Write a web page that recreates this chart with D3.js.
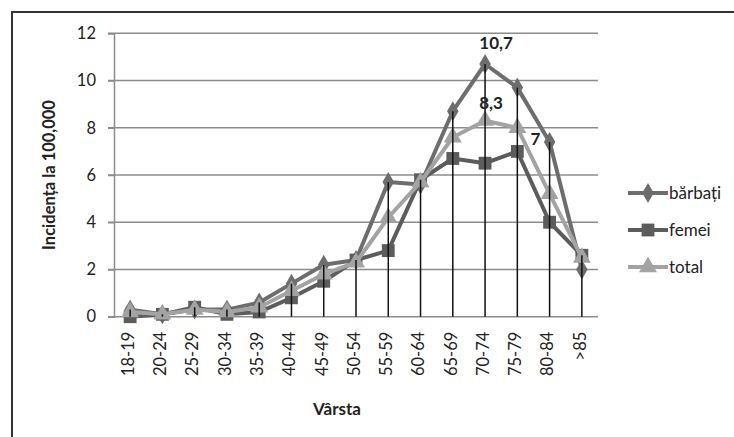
<!DOCTYPE html>
<html>
<head>
<meta charset="utf-8">
<script src="https://cdn.jsdelivr.net/npm/d3@7"></script>
<style>
  body { margin: 0; background: #fff; }
  svg { display: block; font-family: Lato, "Open Sans", sans-serif; }
</style>
</head>
<body>
<svg id="chart" width="734" height="437"></svg>
<script>
const categories = ["18-19","20-24","25-29","30-34","35-39","40-44","45-49","50-54","55-59","60-64","65-69","70-74","75-79","80-84",">85"];
const barbati = [0.3,0.1,0.3,0.3,0.6,1.4,2.2,2.4,5.7,5.6,8.7,10.7,9.7,7.4,2.0];
const femei   = [0.0,0.1,0.4,0.1,0.2,0.8,1.5,2.4,2.8,5.8,6.7,6.5,7.0,4.0,2.6];
const total   = [0.2,0.1,0.3,0.2,0.4,1.1,1.8,2.3,4.2,5.7,7.6,8.3,8.0,5.2,2.5];
const yTicks = [0,2,4,6,8,10,12];
const seriesNames = ["bărbați","femei","total"];
const annotations = [
  {series: 0, index: 11, text: "10,7", dx: 11, dy: -15},
  {series: 2, index: 11, text: "8,3", dx: 6, dy: -12},
  {series: 1, index: 12, text: "7", dx: 18, dy: -6}
];

const svg = d3.select("#chart");
const margin = {left: 114, right: 136, top: 33.3, bottom: 120.3};
const W = 734, H = 437;
const x = d3.scaleBand().domain(categories).range([margin.left, W - margin.right]);
const y = d3.scaleLinear().domain([0, 12]).range([H - margin.bottom, margin.top]);

const colors = ["#6d6d6d", "#5c5c5c", "#a3a3a3"];
const data = [barbati, femei, total];
const symbols = [d3.symbolDiamond, d3.symbolSquare, d3.symbolTriangle];
const symSizes = [115, 165, 140];
const tickFont = 16.5;

// outer frame
svg.append("path").attr("d", `M12,437 V12 H734`).attr("fill", "none").attr("stroke", "#333").attr("stroke-width", 2);

// gridlines
svg.append("g").selectAll("line").data(yTicks).join("line")
  .attr("x1", margin.left - 6).attr("x2", W - margin.right)
  .attr("y1", d => y(d)).attr("y2", d => y(d))
  .attr("stroke", "#8c8c8c").attr("stroke-width", 1.5);

// y axis
const yAxis = d3.axisLeft(y).tickValues(yTicks).tickSize(6).tickPadding(12).tickFormat(d3.format("d"));
const gy = svg.append("g").attr("transform", `translate(${margin.left},0)`).call(yAxis);
gy.select(".domain").attr("stroke", "#8c8c8c").attr("stroke-width", 1.5);
gy.selectAll(".tick line").attr("stroke", "#8c8c8c").attr("stroke-width", 1.5);
gy.selectAll("text").attr("font-size", tickFont).attr("fill", "#222").attr("font-family", "Lato, sans-serif");

// x axis labels
const xAxis = d3.axisBottom(x).tickSize(0).tickPadding(0);
const gx = svg.append("g").attr("transform", `translate(0,${y(0)})`).call(xAxis);
gx.select(".domain").remove();
gx.selectAll(".tick text")
  .attr("transform", "rotate(-90)")
  .attr("text-anchor", "end")
  .attr("x", -15).attr("y", -2).attr("dy", "0.35em")
  .attr("font-size", tickFont).attr("fill", "#222").attr("font-family", "Lato, sans-serif");

const cx = c => x(c) + x.bandwidth() / 2;

// series
const line = d3.line().x((d, i) => cx(categories[i])).y(d => y(d));
data.forEach((vals, s) => {
  const g = svg.append("g");
  g.append("path").datum(vals).attr("d", line).attr("fill", "none")
    .attr("stroke", colors[s]).attr("stroke-width", 4).attr("stroke-linejoin", "round");
  g.selectAll("path.m").data(vals).join("path").attr("class", "m")
    .attr("d", d3.symbol().type(symbols[s]).size(symSizes[s]))
    .attr("transform", (d, i) => `translate(${cx(categories[i])},${y(d)})`)
    .attr("fill", colors[s]);
});

// drop lines (on top)
const maxVals = categories.map((c, i) => Math.max(barbati[i], femei[i], total[i]));
svg.append("g").selectAll("line").data(maxVals).join("line")
  .attr("x1", (d, i) => cx(categories[i])).attr("x2", (d, i) => cx(categories[i]))
  .attr("y1", d => y(d)).attr("y2", y(0))
  .attr("stroke", "#111").attr("stroke-width", 1.5);

// annotations
svg.append("g").selectAll("text").data(annotations).join("text")
  .attr("x", d => cx(categories[d.index]) + d.dx)
  .attr("y", d => y(data[d.series][d.index]) + d.dy)
  .attr("text-anchor", "middle")
  .attr("font-size", 17).attr("font-weight", "bold").attr("fill", "#222")
  .text(d => d.text);

// axis titles
svg.append("text").attr("transform", `translate(55,${(y(0) + y(12)) / 2}) rotate(-90)`)
  .attr("text-anchor", "middle").attr("font-size", 16.5).attr("font-weight", "bold").attr("fill", "#222")
  .text("Incidența la 100,000");
svg.append("text").attr("x", 337).attr("y", 415)
  .attr("text-anchor", "middle").attr("font-size", 17).attr("font-weight", "bold").attr("fill", "#222")
  .text("Vârsta");

// legend
const legend = svg.append("g");
const lyStart = 193, lyStep = 37;
seriesNames.forEach((name, s) => {
  const ly = lyStart + s * lyStep;
  legend.append("line").attr("x1", 628).attr("x2", 668).attr("y1", ly).attr("y2", ly)
    .attr("stroke", colors[s]).attr("stroke-width", 4);
  legend.append("path").attr("d", d3.symbol().type(symbols[s]).size(symSizes[s]))
    .attr("transform", `translate(648,${ly})`).attr("fill", colors[s]);
  legend.append("text").attr("x", 669).attr("y", ly).attr("dy", "0.35em")
    .attr("font-size", 17).attr("fill", "#222").text(name);
});
</script>
</body>
</html>
